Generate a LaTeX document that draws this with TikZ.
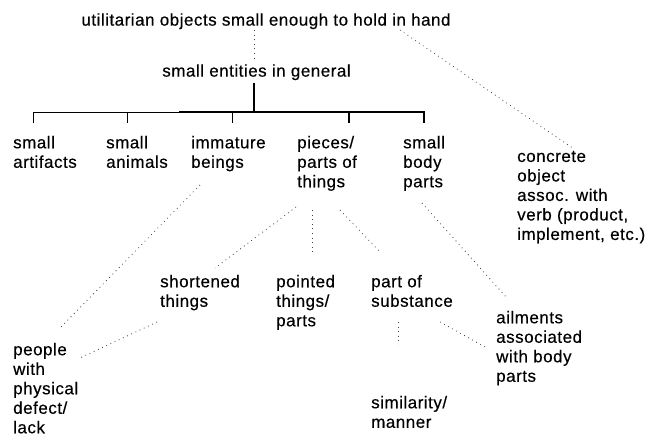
\documentclass[tikz,border=0pt]{standalone}
\usepackage{fontspec}
\setmainfont{Liberation Sans}[LetterSpace=3.0,FakeBold=0.35]
\newcommand\labfont{\fontsize{17}{19.5}\selectfont}
\tikzset{
  lab/.style={anchor=north west, align=left, inner sep=0pt, font=\labfont, execute at begin node={\strut}},
  ctr/.style={anchor=north, inner sep=0pt, font=\labfont, execute at begin node={\strut}},
  dotline/.style={draw=black!75, line width=0.8pt, dash pattern=on 0.8pt off 3.8pt},
  thinline/.style={draw=black, line width=0.7pt},
  thickline/.style={draw=black, line width=1.1pt}
}
\begin{document}
\begin{tikzpicture}[x=1pt,y=1pt]
\fill[white] (0,0) rectangle (650,-445);
\useasboundingbox (0,0) rectangle (650,-445);
% nodes
\node[ctr] (top) at (266,-11.75) {utilitarian objects small enough to hold in hand};
\node[ctr] (mid) at (256.5,-62.75) {small entities in general};
\node[lab] (sa)  at (13,-135.75)  {small\\artifacts};
\node[lab] (san) at (106,-135.75) {small\\animals};
\node[lab] (imm) at (191,-135.75) {immature\\beings};
\node[lab] (pcs) at (297,-135.75) {pieces/\\parts of\\things};
\node[lab] (sbp) at (403,-135.75) {small\\body\\parts};
\node[lab] (conc) at (517,-150.75) {concrete\\object\\assoc. with\\verb (product,\\implement, etc.)};
\node[lab] (short) at (160,-274.75) {shortened\\things};
\node[lab] (point) at (276,-274.75) {pointed\\things/\\parts};
\node[lab] (subst) at (371,-274.75) {part of\\substance};
\node[lab] (ail) at (496,-310.75) {ailments\\associated\\with body\\parts};
\node[lab] (ppl) at (13,-342.75) {people\\with\\physical\\defect/\\lack};
\node[lab] (sim) at (371,-395.75) {similarity/\\manner};
% solid tree
\coordinate (bar) at ([xshift=-2.5pt,yshift=-30pt]mid.south);
\draw[thickline] ([xshift=-2.5pt]mid.south) -- (bar);
\draw[thinline] ([shift={(20,12.75)}]sa.north west) -- ([shift={(20,23.75)}]sa.north west) -- ([shift={(-12,23.75)}]imm.north west);
\draw[thickline] ([shift={(-12,23.75)}]imm.north west) -- ([shift={(21,23.75)}]sbp.north west) -- ([shift={(21,12.75)}]sbp.north west);
\draw[thinline] ([shift={(21,23.75)}]san.north west) -- ([shift={(21,12.75)}]san.north west);
\draw[thinline] ([shift={(41,23.75)}]imm.north west) -- ([shift={(41,12.75)}]imm.north west);
\draw[thickline] ([shift={(52,23.75)}]pcs.north west) -- ([shift={(52,12.75)}]pcs.north west);
% dotted connectors
\draw[dotline] ([shift={(-12,-18.25)}]top.north) -- ([shift={(-2.5,0.75)}]mid.north);
\draw[dotline] ([shift={(134,-18.25)}]top.north) -- ([shift={(57,1.75)}]conc.north west);
\draw[dotline] ([shift={(9,-49.25)}]imm.north west) -- ([shift={(47,14.75)}]ppl.north west);
\draw[dotline] ([shift={(-3,-47.25)}]short.north west) -- ([shift={(67,-15.25)}]ppl.north west);
\draw[dotline] ([shift={(-1,-71.25)}]pcs.north west) -- ([shift={(55,6.75)}]short.north west);
\draw[dotline] ([shift={(15,-74.25)}]pcs.north west) -- ([shift={(36,19.75)}]point.north west);
\draw[dotline] ([shift={(43,-74.25)}]pcs.north west) -- ([shift={(9,22.75)}]subst.north west);
\draw[dotline] ([shift={(19,-67.25)}]sbp.north west) -- ([shift={(11,12.75)}]ail.north west);
\draw[dotline] ([shift={(27,-47.25)}]subst.north west) -- ([shift={(27,50.75)}]sim.north west);
\draw[dotline] ([shift={(69,-47.25)}]subst.north west) -- ([shift={(-9,-37.25)}]ail.north west);
\end{tikzpicture}
\end{document}
